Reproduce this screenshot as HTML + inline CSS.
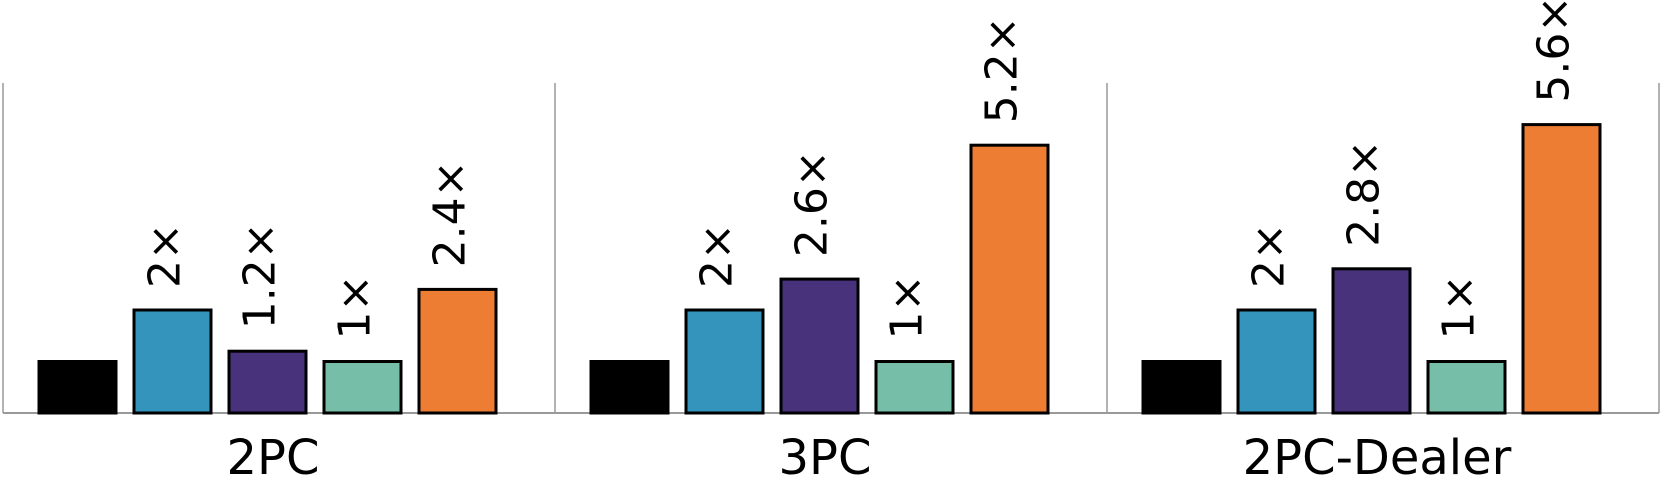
<!DOCTYPE html>
<html><head><meta charset="utf-8"><style>
html,body{margin:0;padding:0;background:#fff;}
svg{display:block;}
text{font-family:"DejaVu Sans","Liberation Sans",sans-serif;fill:#000;}
</style></head><body>
<svg id="chart" width="1661" height="479" viewBox="0 0 1661 479"></svg>
<script>
const groups = ["2PC", "3PC", "2PC-Dealer"];
const series = ["baseline", "series-b", "series-c", "series-d", "series-e"];
const colors = ["#000000", "#3594bb", "#48327c", "#77bea8", "#ec7d33"];
const values2PC = [1, 2, 1.2, 1, 2.4];
const values3PC = [1, 2, 2.6, 1, 5.2];
const values2PCDealer = [1, 2, 2.8, 1, 5.6];
const labels2PC = ["", "2×", "1.2×", "1×", "2.4×"];
const labels3PC = ["", "2×", "2.6×", "1×", "5.2×"];
const labels2PCDealer = ["", "2×", "2.8×", "1×", "5.6×"];
const allValues = [values2PC, values3PC, values2PCDealer];
const allLabels = [labels2PC, labels3PC, labels2PCDealer];

const NS = "http://www.w3.org/2000/svg";
const svg = document.getElementById("chart");
const baseY = 413, unit = 51.5, panelX0 = 3, panelW = 552, barOff = 36, barW = 77, pitch = 95;
function yScale(v){ return baseY - v*unit; }
function panelX(g){ return panelX0 + g*panelW; }
function barX(g,i){ return panelX(g) + barOff + i*pitch; }
function mk(tag, attrs){ const e=document.createElementNS(NS,tag); for(const k in attrs) e.setAttribute(k,attrs[k]); svg.appendChild(e); return e; }

for(let g=0; g<=groups.length; g++){
  const l = mk("line",{x1:panelX(g),x2:panelX(g),y1:83,y2:baseY,stroke:"#999","stroke-width":1.5});
  
  
}
const ax = mk("line",{x1:panelX0,x2:panelX(groups.length),y1:baseY,y2:baseY,stroke:"#999","stroke-width":2});



groups.forEach((gname,g)=>{
  allValues[g].forEach((v,i)=>{
    const r = mk("rect",{x:barX(g,i),y:yScale(v),width:barW,height:v*unit,fill:colors[i],stroke:"#000","stroke-width":3});
    
    
    const lab = allLabels[g][i];
    if(lab){
      const cx = barX(g,i) + barW/2 + 7, ty = yScale(v) - 22;
      const t = mk("text",{x:cx,y:ty,"font-size":44,transform:"rotate(-90 "+cx+" "+ty+")"});
      t.textContent = lab;
      
      
    }
  });
  const t = mk("text",{x:panelX(g)+panelW/2-6,y:474,"font-size":48,"text-anchor":"middle"});
  t.textContent = gname;
  
  
});
</script>
</body></html>
